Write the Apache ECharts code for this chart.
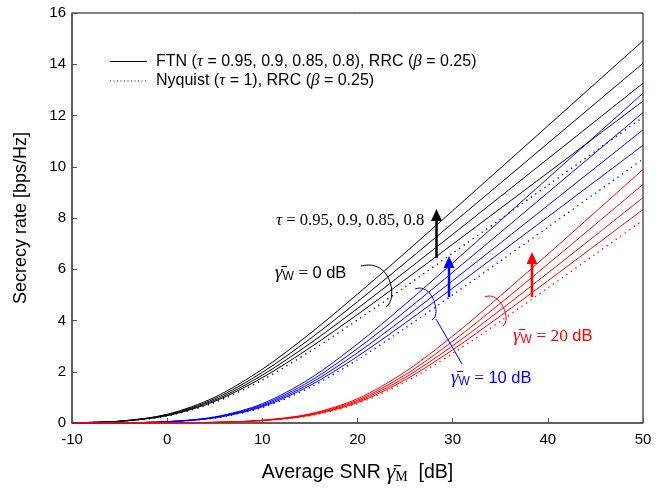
<!DOCTYPE html>
<html>
<head>
<meta charset="utf-8">
<script src="https://cdn.jsdelivr.net/npm/echarts@6/dist/echarts.min.js"></script>
<style>
html,body{margin:0;padding:0;background:#fff;}
#chart{width:665px;height:489px;}
</style>
</head>
<body>
<div id="chart"></div>
<script>
// ---- data ----
const snr = [-10, -5, 0, 5, 10, 15, 20, 25, 30, 35, 40, 45, 50];
const xTicks = [-10, 0, 10, 20, 30, 40, 50];
const yTicks = [0, 2, 4, 6, 8, 10, 12, 14, 16];

// gamma_W = 0 dB (black)
const blkNyq = [0.009, 0.059, 0.271, 0.804, 1.680, 2.790, 4.024, 5.314, 6.627, 7.950, 9.277, 10.605, 11.933];
const blk095 = [0.009, 0.063, 0.286, 0.846, 1.769, 2.937, 4.235, 5.593, 6.976, 8.369, 9.765, 11.163, 12.561];
const blk090 = [0.010, 0.066, 0.301, 0.893, 1.867, 3.100, 4.471, 5.904, 7.363, 8.834, 10.308, 11.783, 13.259];
const blk085 = [0.010, 0.070, 0.319, 0.946, 1.977, 3.283, 4.734, 6.251, 7.797, 9.353, 10.914, 12.476, 14.039];
const blk080 = [0.011, 0.074, 0.339, 1.005, 2.100, 3.488, 5.030, 6.642, 8.284, 9.938, 11.596, 13.256, 14.916];

// gamma_W = 10 dB (blue)
const bluNyq = [0.001, 0.007, 0.043, 0.190, 0.602, 1.387, 2.469, 3.704, 4.999, 6.316, 7.641, 8.968, 10.296];
const blu095 = [0.001, 0.008, 0.046, 0.200, 0.633, 1.460, 2.599, 3.899, 5.262, 6.648, 8.043, 9.440, 10.838];
const blu090 = [0.001, 0.008, 0.048, 0.211, 0.668, 1.541, 2.744, 4.115, 5.554, 7.018, 8.490, 9.964, 11.440];
const blu085 = [0.001, 0.009, 0.051, 0.223, 0.708, 1.631, 2.905, 4.357, 5.881, 7.431, 8.989, 10.551, 12.113];
const blu080 = [0.001, 0.009, 0.054, 0.237, 0.752, 1.733, 3.087, 4.630, 6.249, 7.895, 9.551, 11.210, 12.870];

// gamma_W = 20 dB (red)
const redNyq = [0.000, 0.001, 0.005, 0.022, 0.087, 0.284, 0.757, 1.596, 2.713, 3.966, 5.269, 6.589, 7.915];
const red095 = [0.000, 0.001, 0.005, 0.024, 0.092, 0.299, 0.797, 1.680, 2.856, 4.175, 5.546, 6.936, 8.332];
const red090 = [0.000, 0.001, 0.005, 0.025, 0.097, 0.316, 0.841, 1.773, 3.014, 4.407, 5.854, 7.321, 8.794];
const red085 = [0.000, 0.001, 0.005, 0.026, 0.103, 0.334, 0.891, 1.878, 3.192, 4.666, 6.199, 7.752, 9.312];
const red080 = [0.000, 0.001, 0.006, 0.028, 0.109, 0.355, 0.946, 1.995, 3.391, 4.958, 6.586, 8.236, 9.894];

// ---- build ----
const SANS = 'Liberation Sans';
const SERIF = 'Liberation Serif';
function pairs(ys) { return snr.map((x, i) => [x, ys[i]]); }
function solid(name, ys, color) {
  return { name, type: 'line', data: pairs(ys), showSymbol: false, smooth: 0.3,
    lineStyle: { color, width: 1 }, itemStyle: { color }, silent: true, z: 3 };
}
function dotted(name, ys, color) {
  return { name, type: 'line', data: pairs(ys), showSymbol: false, smooth: 0.3,
    lineStyle: { color, width: 1.3, type: [1.3, 4.2] }, itemStyle: { color }, silent: true, z: 2 };
}
const series = [
  dotted('Nyq 0dB', blkNyq, '#000'), solid('0.95 0dB', blk095, '#000'), solid('0.9 0dB', blk090, '#000'),
  solid('0.85 0dB', blk085, '#000'), solid('0.8 0dB', blk080, '#000'),
  dotted('Nyq 10dB', bluNyq, '#0000ff'), solid('0.95 10dB', blu095, '#0000ff'), solid('0.9 10dB', blu090, '#0000ff'),
  solid('0.85 10dB', blu085, '#0000ff'), solid('0.8 10dB', blu080, '#0000ff'),
  dotted('Nyq 20dB', redNyq, '#ff0000'), solid('0.95 20dB', red095, '#ff0000'), solid('0.9 20dB', red090, '#ff0000'),
  solid('0.85 20dB', red085, '#ff0000'), solid('0.8 20dB', red080, '#ff0000')
];

function annoText(x, y, text, color) {
  return { type: 'text', x, y, z: 50, silent: true,
    style: { text, fill: color, fontFamily: SANS, fontSize: 16.5, verticalAlign: 'middle', align: 'left',
      rich: {
        g: { fontFamily: SERIF, fontStyle: 'italic', fontSize: 19, verticalAlign: 'middle' },
        s: { fontFamily: SANS, fontSize: 12, verticalAlign: 'bottom', lineHeight: 15 },
        e: { fontFamily: SERIF, fontSize: 17.5 }
      } } };
}
function arrow(x, yBase, yTop, color) {
  return [
    { type: 'line', z: 50, silent: true, shape: { x1: x, y1: yBase, x2: x, y2: yTop + 10 }, style: { stroke: color, lineWidth: 2.5 } },
    { type: 'polygon', z: 50, silent: true, shape: { points: [[x - 5.5, yTop + 12], [x + 5.5, yTop + 12], [x, yTop]] }, style: { fill: color } }
  ];
}
function arc(p, color) {
  return { type: 'bezierCurve', z: 50, silent: true,
    shape: { x1: p[0], y1: p[1], cpx1: p[2], cpy1: p[3], cpx2: p[4], cpy2: p[5], x2: p[6], y2: p[7] },
    style: { stroke: color, lineWidth: 1, fill: null } };
}
const legRich = { i: { fontFamily: SERIF, fontStyle: 'italic', fontSize: 17 } };

const graphic = [
  { type: 'line', z: 50, silent: true, shape: { x1: 110, y1: 61.5, x2: 147, y2: 61.5 }, style: { stroke: '#000', lineWidth: 1 } },
  { type: 'line', z: 50, silent: true, shape: { x1: 110, y1: 81, x2: 147, y2: 81 }, style: { stroke: '#000', lineWidth: 1, lineDash: [1, 2.5] } },
  { type: 'text', x: 156, y: 61.5, z: 50, silent: true,
    style: { text: 'FTN ({i|τ} = 0.95, 0.9, 0.85, 0.8), RRC ({i|β} = 0.25)', fill: '#000', fontFamily: SANS, fontSize: 16,
      verticalAlign: 'middle', rich: legRich } },
  { type: 'text', x: 156, y: 81, z: 50, silent: true,
    style: { text: 'Nyquist ({i|τ} = 1), RRC ({i|β} = 0.25)', fill: '#000', fontFamily: SANS, fontSize: 16,
      verticalAlign: 'middle', rich: legRich } },
  { type: 'text', x: 276, y: 221, z: 50, silent: true,
    style: { text: '{i|τ} = 0.95, 0.9, 0.85, 0.8', fill: '#000', fontFamily: SERIF, fontSize: 16.6, verticalAlign: 'middle',
      rich: { i: { fontFamily: SERIF, fontStyle: 'italic', fontSize: 17 } } } },
  annoText(275, 273, '{g|γ̄}{s|W}{e| = }0 dB', '#000'),
  annoText(451, 378, '{g|γ̄}{s|W}{e| = }10 dB', '#0000ff'),
  annoText(513, 336, '{g|γ̄}{s|W}{e| = 20 }dB', '#ff0000'),
  arc([361, 266, 392, 258, 398, 300, 386, 307], '#000'),
  arc([415, 289, 432, 282, 442, 315, 432, 320], '#0000ff'),
  { type: 'line', z: 50, silent: true, shape: { x1: 436, y1: 319, x2: 462, y2: 364 }, style: { stroke: '#0000ff', lineWidth: 1 } },
  arc([485, 297, 500, 290, 512, 320, 503, 326], '#ff0000'),
  ...arrow(436.5, 258, 209, '#000'),
  ...arrow(449, 297, 256, '#0000ff'),
  ...arrow(532, 297, 252, '#ff0000')
];

const chart = echarts.init(document.getElementById('chart'), null, { renderer: 'canvas' });
chart.setOption({
  animation: false,
  backgroundColor: '#fff',
  grid: { left: 72, right: 22, top: 13, bottom: 66, outerBoundsMode: 'none', containLabel: false,
    show: true, borderColor: '#000', borderWidth: 1, backgroundColor: 'transparent' },
  xAxis: {
    type: 'value', min: xTicks[0], max: xTicks[xTicks.length - 1], interval: 10,
    name: 'Average SNR {g|γ̄}{s|M}  [dB]', nameLocation: 'middle', nameGap: 38,
    nameTextStyle: { color: '#000', fontFamily: SANS, fontSize: 19.5,
      rich: { g: { fontFamily: SERIF, fontStyle: 'italic', fontSize: 23, color: '#000' },
              s: { fontFamily: SERIF, fontSize: 14, color: '#000', verticalAlign: 'bottom', lineHeight: 13 } } },
    axisLine: { show: true, onZero: false, lineStyle: { color: '#555', width: 1.5 } },
    axisTick: { show: true, inside: true, length: 5, lineStyle: { color: '#555' } },
    axisLabel: { color: '#000', fontFamily: SANS, fontSize: 15, margin: 9 },
    splitLine: { show: false }
  },
  yAxis: {
    type: 'value', min: yTicks[0], max: yTicks[yTicks.length - 1], interval: 2,
    name: 'Secrecy rate [bps/Hz]', nameLocation: 'middle', nameGap: 42,
    nameTextStyle: { color: '#000', fontFamily: SANS, fontSize: 18 },
    axisLine: { show: true, onZero: false, lineStyle: { color: '#555', width: 1.5 } },
    axisTick: { show: true, inside: true, length: 5, lineStyle: { color: '#555' } },
    axisLabel: { color: '#000', fontFamily: SANS, fontSize: 15, margin: 6 },
    splitLine: { show: false }
  },
  series,
  graphic
});
</script>
</body>
</html>
